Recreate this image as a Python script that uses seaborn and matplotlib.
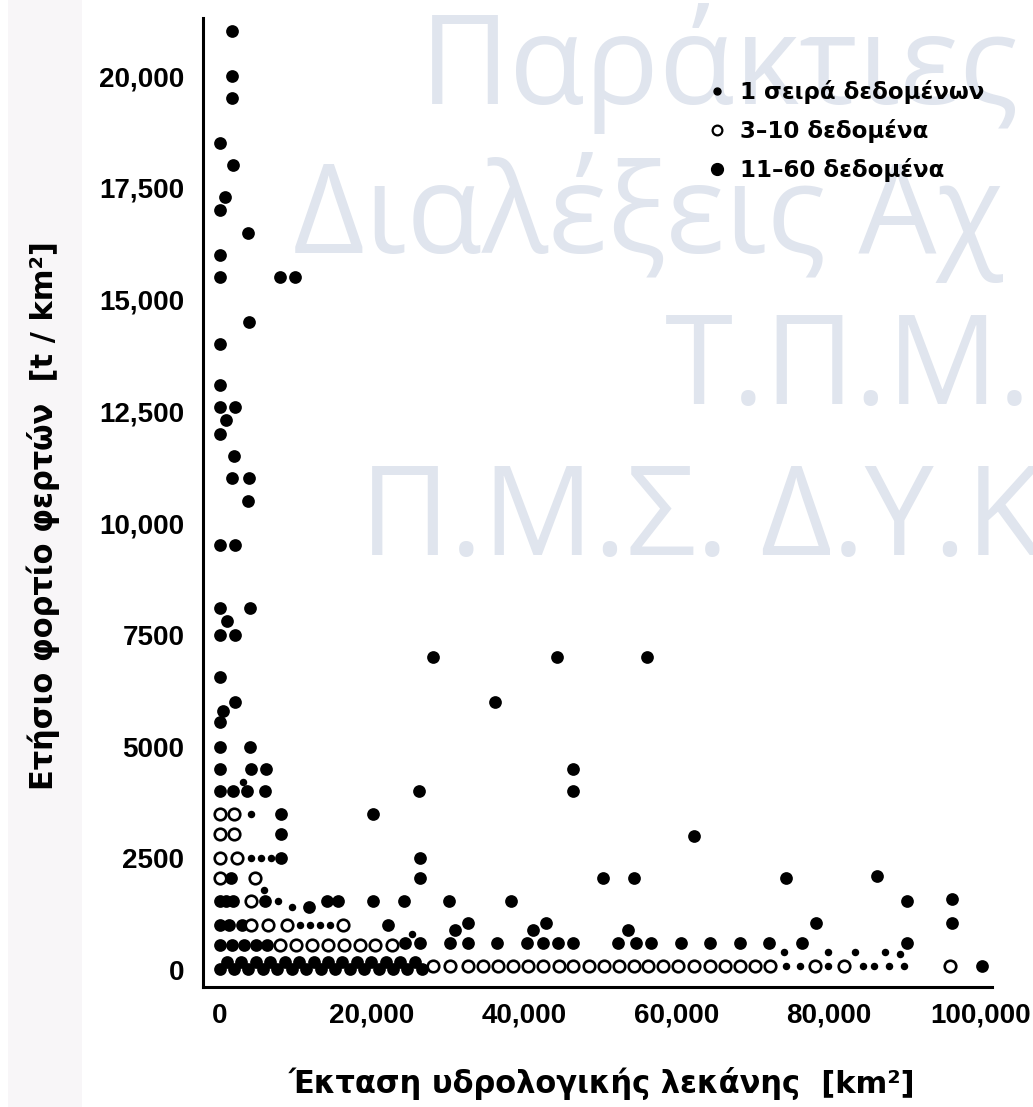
import matplotlib
matplotlib.use("Agg")
import matplotlib.pyplot as plt
import seaborn as sns
import pandas as pd
from matplotlib.lines import Line2D
from matplotlib.patches import Rectangle

# ---------------- data ----------------
# 11–60 data (large filled dots)
many_x = [1700, 1700, 1700, 0, 1800, 700, 0, 3800, 0, 0, 7900, 9900, 3900, 0, 0, 0, 2100,
          800, 0, 1900, 1700, 3900, 3800, 0, 2100, 0, 4000, 1000, 0, 2100, 0, 2000, 400,
          0, 0, 4000, 0, 4200, 6100, 0, 1800, 3600, 6000, 8100, 8100, 8100,
          20200, 26200, 26400, 26300, 28000, 44400, 56200, 36200, 46400, 46400, 62300,
          50400, 54500, 74400, 86400, 90300, 96300, 96300, 78400, 90300, 100200,
          24400, 26400, 30300, 32600, 36400, 40400, 42500, 44500, 46500, 52300, 54700,
          56700, 60600, 64500, 68400, 72200, 76500,
          31000, 32600, 41200, 42900, 53700, 22100, 24300, 30200, 38300, 20200, 14100,
          15600, 11700, 6000,
          0, 900, 1800, 0, 1300, 2900, 0, 1600, 3200, 4800, 6300, 1500,
          0, 1900, 3800, 5700, 7600, 9500, 11400, 13300, 15200, 17100, 19000, 20900,
          22800, 24700, 26600,
          950, 2850, 4750, 6650, 8550, 10450, 12350, 14250, 16150, 18050, 19950, 21850,
          23750, 25650]
many_y = [21000, 20000, 19500, 18500, 18000, 17300, 17000, 16500, 16000, 15500, 15500, 15500,
          14500, 14000, 13100, 12600, 12600, 12300, 12000, 11500, 11000, 11000, 10500, 9500,
          9500, 8100, 8100, 7800, 7500, 7500, 6550, 6000, 5800, 5550, 5000, 5000, 4500, 4500,
          4500, 4000, 4000, 4000, 4000, 3500, 3050, 2500,
          3500, 4000, 2500, 2050, 7000, 7000, 7000, 6000, 4500, 4000, 3000,
          2050, 2050, 2050, 2100, 1550, 1600, 1050, 1050, 600, 100,
          600, 600, 600, 600, 600, 600, 600, 600, 600, 600, 600,
          600, 600, 600, 600, 600, 600,
          900, 1050, 900, 1050, 900, 1000, 1550, 1550, 1550, 1550, 1550,
          1550, 1400, 1550,
          1550, 1550, 1550, 1000, 1000, 1000, 550, 550, 550, 550, 550, 2050,
          20, 20, 20, 20, 20, 20, 20, 20, 20, 20, 20, 20,
          20, 20, 20,
          180, 180, 180, 180, 180, 180, 180, 180, 180, 180, 180, 180,
          180, 180]

# 3–10 data (open circles)
few_x = [0, 1900, 0, 1900, 0, 2300, 0, 4600, 4200, 4200, 6400, 8900, 16200,
         8000, 10100, 12200, 14300, 16300, 18400, 20400, 22600,
         28100, 30300, 32600, 34600, 36600, 38600, 40500, 42500, 44600, 46500, 48500,
         50500, 52500, 54500, 56300, 58300, 60300, 62300, 64400, 66400, 68400, 70400,
         72300, 78200, 82100, 96000]
few_y = [3500, 3500, 3050, 3050, 2500, 2500, 2050, 2050, 1550, 1000, 1000, 1000, 1000,
         550, 550, 550, 550, 550, 550, 550, 550,
         100, 100, 100, 100, 100, 100, 100, 100, 100, 100, 100,
         100, 100, 100, 100, 100, 100, 100, 100, 100, 100, 100,
         100, 100, 100, 100]

# 1 data series (small filled dots)
single_x = [4200, 5500, 6700, 4100, 3100, 10600, 11900, 13200, 14500, 7700, 9500, 5800,
            25300, 74200, 79900, 83500, 87400, 89400,
            74400, 76300, 80000, 84500, 86000, 88000, 89900]
single_y = [2500, 2500, 2500, 3500, 4200, 1000, 1000, 1000, 1000, 1550, 1400, 1800,
            800, 400, 400, 400, 400, 350,
            100, 100, 100, 100, 100, 100, 100]

legend_labels = ["1 σειρά δεδομένων", "3–10 δεδομένα", "11–60 δεδομένα"]
x_ticks = [0, 20000, 40000, 60000, 80000, 100000]
x_ticklabels = ["0", "20,000", "40,000", "60,000", "80,000", "100,000"]
y_ticks = [0, 2500, 5000, 7500, 10000, 12500, 15000, 17500, 20000]
y_ticklabels = ["0", "2500", "5000", "7500", "10,000", "12,500", "15,000", "17,500", "20,000"]
x_label = "Έκταση υδρολογικής λεκάνης  [km²]"
y_label = "Ετήσιο φορτίο φερτών  [t / km²]"
watermark = ["Παράκτιες", "Διαλέξεις Αχ", "Τ.Π.Μ.", "Π.Μ.Σ. Δ.Υ.Κ"]

# ---------------- figure ----------------
sns.set_style("white")
plt.rcParams["font.family"] = ["DejaVu Sans"]
plt.rcParams["text.color"] = "black"
plt.rcParams["axes.labelcolor"] = "black"

W, H = 1033, 1107
fig = plt.figure(figsize=(W / 100, H / 100), dpi=100)
fig.patch.set_facecolor("white")

# faint dotted strip at left edge of the scan
fig.add_artist(Rectangle((8 / W, 0), 74 / W, 1, transform=fig.transFigure,
                         facecolor="#f8f6f8", edgecolor="none", zorder=-3))

# watermark
wm_pos = [(420, 104), (293, 253), (665, 404), (360, 555)]
for (px, py), txt in zip(wm_pos, watermark):
    fig.text(px / W, 1 - py / H, txt, fontsize=89, color="#e0e5ee",
             family=["Open Sans", "DejaVu Sans"], ha="left", va="baseline", zorder=-2)

ax = fig.add_axes([203 / W, 1 - 987 / H, (992 - 203) / W, (987 - 18) / H])
ax.set_facecolor("none")

df_many = pd.DataFrame({"x": many_x, "y": many_y})
df_few = pd.DataFrame({"x": few_x, "y": few_y})
df_single = pd.DataFrame({"x": single_x, "y": single_y})

sns.scatterplot(data=df_many, x="x", y="y", ax=ax, s=84, color="black",
                linewidth=0, zorder=3, legend=False)
sns.scatterplot(data=df_few, x="x", y="y", ax=ax, s=69, color="white",
                edgecolor="black", linewidth=1.9, zorder=4, legend=False)
sns.scatterplot(data=df_single, x="x", y="y", ax=ax, s=29, color="black",
                linewidth=0, zorder=5, legend=False)

ax.set_xlim(-2170, 101500)
ax.set_ylim(-380, 21300)
ax.set_xticks(x_ticks)
ax.set_xticklabels(x_ticklabels)
ax.set_yticks(y_ticks)
ax.set_yticklabels(y_ticklabels)
for lab in ax.get_xticklabels() + ax.get_yticklabels():
    lab.set_fontfamily(["Liberation Sans", "DejaVu Sans"])
    lab.set_fontsize(20)
    lab.set_fontweight("bold")

sns.despine(ax=ax)
for side in ["left", "bottom"]:
    ax.spines[side].set_linewidth(2.2)
    ax.spines[side].set_color("black")

ax.tick_params(axis="both", direction="in", length=7, width=1.8, colors="black")
ax.tick_params(axis="x", pad=11.5)
ax.tick_params(axis="y", pad=13.5)

ax.set_xlabel(x_label, fontsize=22, fontweight="bold", color="black")
ax.set_ylabel(y_label, fontsize=22, fontweight="bold", color="black")
ax.xaxis.set_label_coords(0.506, -0.083)
ax.yaxis.set_label_coords(-0.181, 0.487)

handles = [
    Line2D([], [], marker="o", linestyle="none", color="black", markersize=5),
    Line2D([], [], marker="o", linestyle="none", markerfacecolor="white",
           markeredgecolor="black", markeredgewidth=1.6, markersize=7),
    Line2D([], [], marker="o", linestyle="none", color="black", markersize=8.5),
]
leg = ax.legend(handles, legend_labels, loc="upper left",
                bbox_to_anchor=(708 / W, 1 - 80 / H), bbox_transform=fig.transFigure,
                frameon=False, prop={"weight": "bold", "size": 16.5},
                handlelength=0.8, handletextpad=0.6, labelspacing=0.65,
                borderpad=0, borderaxespad=0)
for t in leg.get_texts():
    t.set_color("black")

fig.savefig("out.png", dpi=100)
